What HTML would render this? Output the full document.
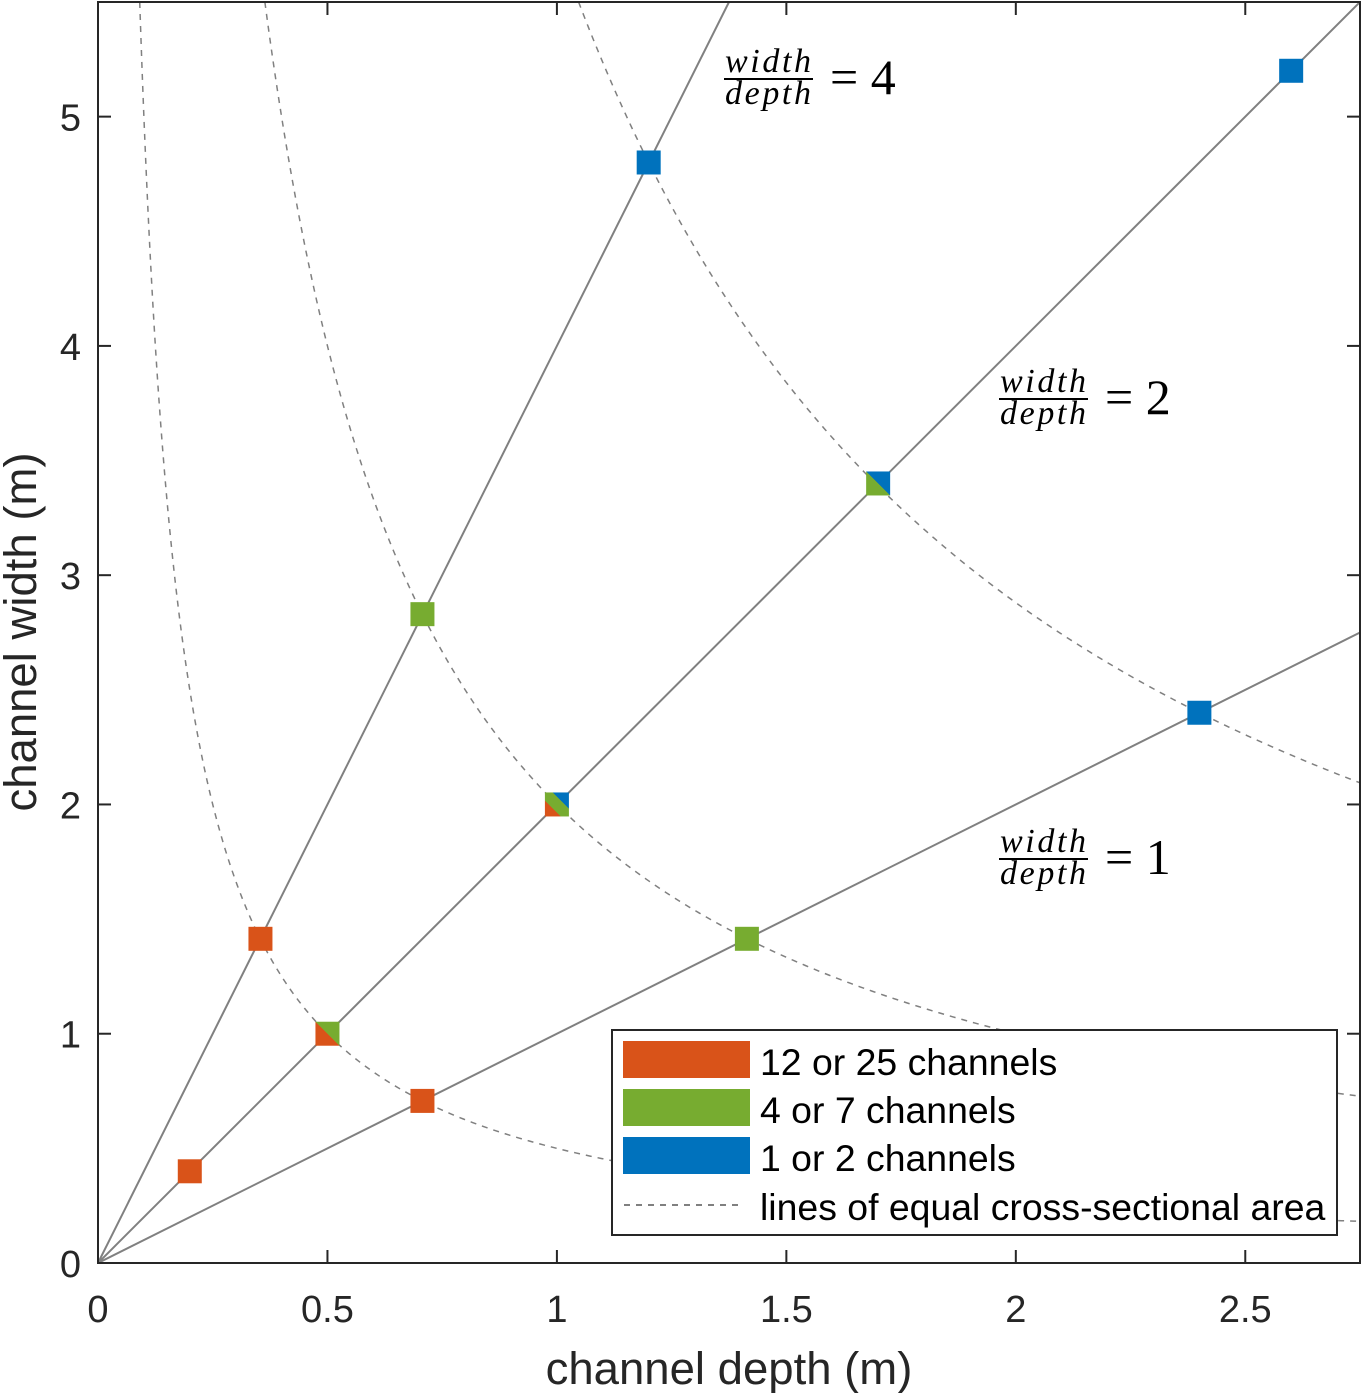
<!DOCTYPE html>
<html><head><meta charset="utf-8"><style>
html,body{margin:0;padding:0;background:#fff;}
svg text{font-family:"Liberation Sans",sans-serif;fill:#262626;}
.mt{font-family:"Liberation Serif",serif;fill:#000;}
</style></head><body>
<svg id="chart" xmlns="http://www.w3.org/2000/svg" width="1362" height="1393" viewBox="0 0 1362 1393">
<g id="curves"></g>
<g id="rays"></g>
<g id="markers"></g>
<g id="axes"></g>
<g>
<text class="mt" x="768" y="72" font-size="34" font-style="italic" text-anchor="middle" textLength="86">width</text>
<line x1="724" y1="79" x2="813" y2="79" stroke="#000" stroke-width="2"/>
<text class="mt" x="768" y="104" font-size="34" font-style="italic" text-anchor="middle" textLength="86">depth</text>
<text class="mt" x="830" y="94" font-size="50">= 4</text>
</g>
<g>
<text class="mt" x="1043" y="392" font-size="34" font-style="italic" text-anchor="middle" textLength="86">width</text>
<line x1="999" y1="399" x2="1088" y2="399" stroke="#000" stroke-width="2"/>
<text class="mt" x="1043" y="424" font-size="34" font-style="italic" text-anchor="middle" textLength="86">depth</text>
<text class="mt" x="1105" y="414" font-size="50">= 2</text>
</g>
<g>
<text class="mt" x="1043" y="852" font-size="34" font-style="italic" text-anchor="middle" textLength="86">width</text>
<line x1="999" y1="859" x2="1088" y2="859" stroke="#000" stroke-width="2"/>
<text class="mt" x="1043" y="884" font-size="34" font-style="italic" text-anchor="middle" textLength="86">depth</text>
<text class="mt" x="1105" y="874" font-size="50">= 1</text>
</g>
<g>
<rect x="612" y="1030" width="725" height="205" fill="#fff" stroke="#262626" stroke-width="2"/>
<rect x="623" y="1041" width="127" height="37" fill="#D95319"/>
<rect x="623" y="1089" width="127" height="37" fill="#77AC30"/>
<rect x="623" y="1137" width="127" height="37" fill="#0072BD"/>
<line x1="624" y1="1205" x2="744" y2="1205" stroke="#808080" stroke-width="2" stroke-dasharray="6,6"/>
<text x="760" y="1075" font-size="37.4" style="fill:#000">12 or 25 channels</text>
<text x="760" y="1123" font-size="37.4" style="fill:#000">4 or 7 channels</text>
<text x="760" y="1171" font-size="37.4" style="fill:#000">1 or 2 channels</text>
<text x="760" y="1220" font-size="37.4" style="fill:#000">lines of equal cross-sectional area</text>
</g>
<text x="729" y="1384" font-size="45.5" text-anchor="middle">channel depth (m)</text>
<text transform="translate(36,632) rotate(-90)" font-size="45.5" text-anchor="middle">channel width (m)</text>
</svg>
<script>
const ratios = [4, 2, 1];
const areas = [0.5, 2, 5.76];
const depths = [0.2, 0.354, 0.5, 0.707, 1, 0.707, 1.414, 1.7, 1.2, 2.4, 2.6];
const widths = [0.4, 1.414, 1, 0.707, 2, 2.83, 1.414, 3.4, 4.8, 2.4, 5.2];
const pointColors = [["o"],["o"],["o","g"],["o"],["o","g","b"],["g"],["g"],["g","b"],["b"],["b"],["b"]];
const xTicks = [0, 0.5, 1, 1.5, 2, 2.5];
const xTickLabels = ["0","0.5","1","1.5","2","2.5"];
const yTicks = [0, 1, 2, 3, 4, 5];
const yTickLabels = ["0","1","2","3","4","5"];

const NS = "http://www.w3.org/2000/svg";
const L = 98, R = 1360, T = 2, B = 1263, XMAX = 2.75, YMAX = 5.5;
const sx = v => L + v / XMAX * (R - L);
const sy = v => B - v / YMAX * (B - T);
const cmap = {o:"#D95319", g:"#77AC30", b:"#0072BD"};
function mk(tag, attrs, parent){const e=document.createElementNS(NS,tag);for(const k in attrs)e.setAttribute(k,attrs[k]);parent.appendChild(e);return e;}

const svg = document.getElementById('chart');
const defs = mk('defs', {}, svg);
const clip = mk('clipPath', {id:'plotclip'}, defs);
mk('rect', {x:L, y:T, width:R-L, height:B-T}, clip);

const curves = document.getElementById('curves');
curves.setAttribute('clip-path','url(#plotclip)');
areas.forEach((a, i) => {
  let d = '';
  const d0 = a / YMAX;
  for (let k = 0; k <= 400; k++) {
    const x = d0 + (XMAX - d0) * Math.pow(k / 400, 2);
    d += (k ? 'L' : 'M') + sx(x).toFixed(2) + ',' + sy(a / x).toFixed(2);
  }
  const p = mk('path', {d:d, fill:'none', stroke:'#808080', 'stroke-width':1.5, 'stroke-dasharray':'6,6'}, curves);
  
  
});

const rays = document.getElementById('rays');
rays.setAttribute('clip-path','url(#plotclip)');
ratios.forEach(r => {
  const xe = Math.min(XMAX, YMAX / r);
  const ln = mk('line', {x1:sx(0), y1:sy(0), x2:sx(xe), y2:sy(xe * r), stroke:'#808080', 'stroke-width':2}, rays);
  
  
});

const markers = document.getElementById('markers');
depths.forEach((dv, i) => {
  const cols = pointColors[i];
  const id = 'g' + i;
  const g = mk('linearGradient', {id:id, x1:0, y1:1, x2:1, y2:0}, defs);
  cols.forEach((c, j) => {
    mk('stop', {offset: (j / cols.length), 'stop-color': cmap[c]}, g);
    mk('stop', {offset: ((j + 1) / cols.length), 'stop-color': cmap[c]}, g);
  });
  const s = 24;
  const m = mk('rect', {x:sx(dv) - s/2, y:sy(widths[i]) - s/2, width:s, height:s, fill:'url(#' + id + ')'}, markers);
  
  
});

const axes = document.getElementById('axes');
mk('rect', {x:L, y:T, width:R-L, height:B-T, fill:'none', stroke:'#262626', 'stroke-width':2}, axes);
xTicks.forEach((v, i) => {
  const x = sx(v);
  mk('line', {x1:x, y1:B, x2:x, y2:B-13, stroke:'#262626', 'stroke-width':2}, axes);
  mk('line', {x1:x, y1:T, x2:x, y2:T+13, stroke:'#262626', 'stroke-width':2}, axes);
  const t = mk('text', {x:x, y:1322, 'font-size':38, 'text-anchor':'middle'}, axes);
  t.textContent = xTickLabels[i];
  
  
});
yTicks.forEach((v, i) => {
  const y = sy(v);
  mk('line', {x1:L, y1:y, x2:L+13, y2:y, stroke:'#262626', 'stroke-width':2}, axes);
  mk('line', {x1:R, y1:y, x2:R-13, y2:y, stroke:'#262626', 'stroke-width':2}, axes);
  const t = mk('text', {x:81, y:y+14, 'font-size':38, 'text-anchor':'end'}, axes);
  t.textContent = yTickLabels[i];
  
  
});
</script>
</body></html>
